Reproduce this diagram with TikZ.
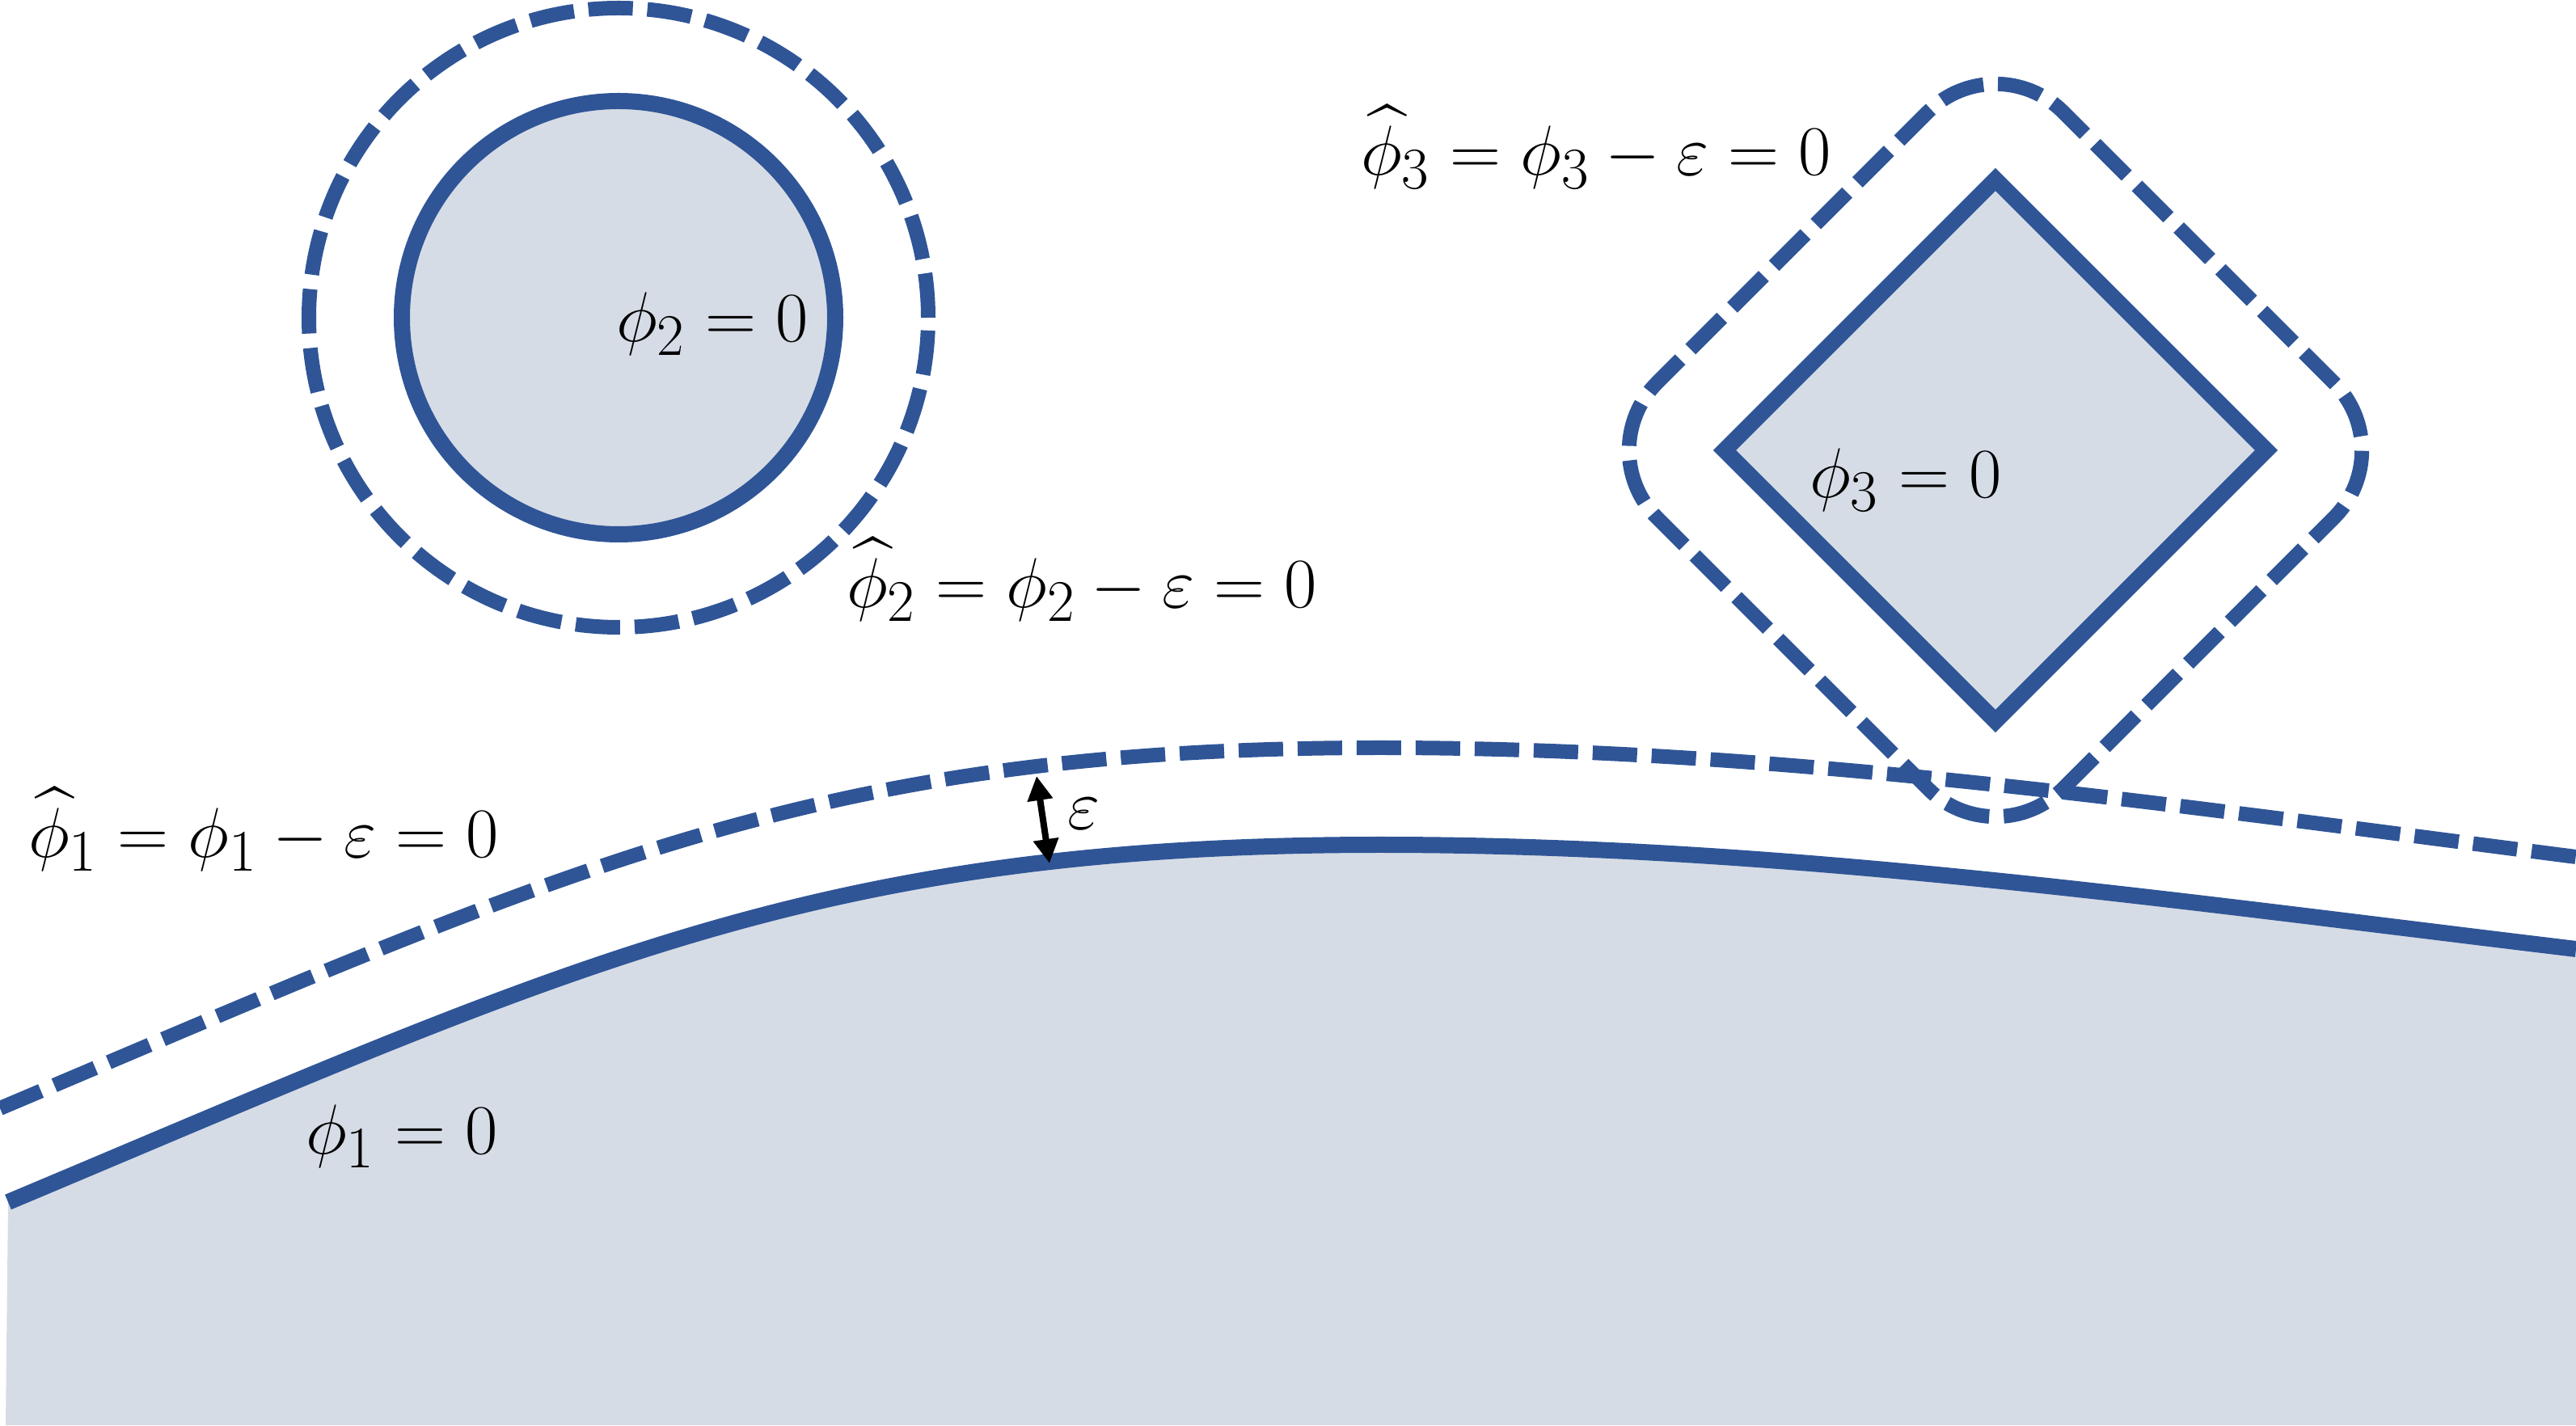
\documentclass[tikz,border=0pt]{standalone}
\usepackage{amsmath}
\usepackage{amssymb}
\usepackage{tikz}
\usetikzlibrary{arrows.meta,calc}
\definecolor{lsblue}{HTML}{2F5597}
\definecolor{lsfill}{HTML}{D6DCE5}

\begin{document}
\begin{tikzpicture}[
    level/.style={draw=lsblue, line width=2mm},
    shifted/.style={draw=lsblue, line width=1.8mm, dash pattern=on 5.5mm off 1.8mm},
    lbl/.style={inner sep=0pt, anchor=base, font=\fontsize{24.88}{30}\selectfont},
    gap/.style={{Triangle[width=3mm,length=3mm]}-{Triangle[width=3mm,length=3mm]}, line width=0.8mm}]
\useasboundingbox (0,0) rectangle (31.86,17.63);
% ground
\coordinate (g0)   at (0.10,2.76);
\coordinate (gtop) at (17.07,7.18);
\coordinate (g1)   at (31.86,5.89);
\coordinate (h0)   at (0,3.92);
\coordinate (htop) at (17.07,8.38);
\coordinate (h1)   at (31.86,7.03);
\fill[lsfill] (0.07,0) -- (g0) .. controls (7.10,5.70) and (10.07,7.18) .. (gtop)
    .. controls (22.07,7.18) and (26.86,6.49) .. (g1) -- (31.86,0) -- cycle;
\draw[level] (g0) .. controls (7.10,5.70) and (10.07,7.18) .. (gtop)
    .. controls (22.07,7.18) and (26.86,6.49) .. (g1);
\draw[shifted] (h0) .. controls (7.05,6.90) and (10.07,8.38) .. (htop)
    .. controls (22.07,8.38) and (26.86,7.67) .. (h1);
% circle
\coordinate (cc) at (7.65,13.70);
\filldraw[level, fill=lsfill] (cc) circle[radius=2.68];
\draw[shifted] (cc) circle[radius=3.83];
% diamond
\coordinate (dc) at (24.68,12.06);
\filldraw[level, fill=lsfill, miter limit=10] ($(dc)+(0,3.35)$) -- ($(dc)+(3.35,0)$)
    -- ($(dc)+(0,-3.35)$) -- ($(dc)+(-3.35,0)$) -- cycle;
\begin{scope}[shift={(dc)}, rotate=45]
\draw[shifted, rounded corners=1.18cm] (-3.55,-3.55) -- (3.55,-3.55) -- (3.55,3.55)
    -- (-3.55,3.55) -- cycle;
\end{scope}
% epsilon
\coordinate (epsA) at (12.82,8.03);
\coordinate (epsB) at (12.98,6.95);
\draw[gap] (epsA) -- (epsB);
\node[lbl] (eps)   at (13.41,7.37)  {$\varepsilon$};
\node[lbl] (phiA)  at (4.97,3.35)   {$\phi_1 = 0$};
\node[lbl] (phiAh) at (3.26,7.02)   {$\widehat{\phi}_1 = \phi_1 - \varepsilon = 0$};
\node[lbl] (phiB)  at (8.81,13.40)  {$\phi_2 = 0$};
\node[lbl] (phiBh) at (13.38,10.11) {$\widehat{\phi}_2 = \phi_2 - \varepsilon = 0$};
\node[lbl] (phiC)  at (23.57,11.47) {$\phi_3 = 0$};
\node[lbl] (phiCh) at (19.74,15.46) {$\widehat{\phi}_3 = \phi_3 - \varepsilon = 0$};
\end{tikzpicture}
\end{document}
